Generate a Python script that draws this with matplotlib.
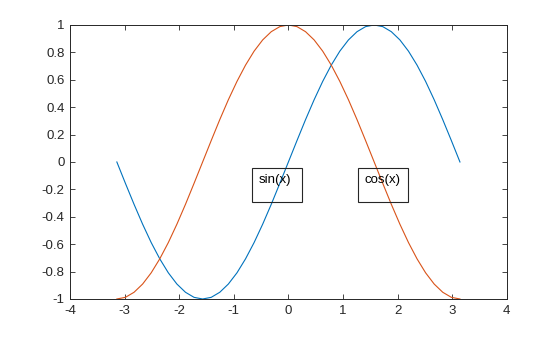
import matplotlib
matplotlib.use("Agg")
import matplotlib.pyplot as plt
from matplotlib.patches import Rectangle

x_pos = [0.0, 0.157, 0.314, 0.471, 0.628, 0.785, 0.942, 1.100, 1.257, 1.414, 1.571,
         1.728, 1.885, 2.042, 2.199, 2.356, 2.513, 2.670, 2.827, 2.985, 3.142]
x = [-v for v in x_pos[::-1]] + x_pos[1:]

sin_y = [0.0, -0.156, -0.309, -0.454, -0.588, -0.707, -0.809, -0.891, -0.951, -0.988, -1.0,
         -0.988, -0.951, -0.891, -0.809, -0.707, -0.588, -0.454, -0.309, -0.156, 0.0,
         0.156, 0.309, 0.454, 0.588, 0.707, 0.809, 0.891, 0.951, 0.988, 1.0,
         0.988, 0.951, 0.891, 0.809, 0.707, 0.588, 0.454, 0.309, 0.156, 0.0]
cos_y = [-1.0, -0.988, -0.951, -0.891, -0.809, -0.707, -0.588, -0.454, -0.309, -0.156, 0.0,
         0.156, 0.309, 0.454, 0.588, 0.707, 0.809, 0.891, 0.951, 0.988, 1.0,
         0.988, 0.951, 0.891, 0.809, 0.707, 0.588, 0.454, 0.309, 0.156, 0.0,
         -0.156, -0.309, -0.454, -0.588, -0.707, -0.809, -0.891, -0.951, -0.988, -1.0]

xticks = [-4, -3, -2, -1, 0, 1, 2, 3, 4]
xtick_labels = ["-4", "-3", "-2", "-1", "0", "1", "2", "3", "4"]
yticks = [-1, -0.8, -0.6, -0.4, -0.2, 0, 0.2, 0.4, 0.6, 0.8, 1]
ytick_labels = ["-1", "-0.8", "-0.6", "-0.4", "-0.2", "0", "0.2", "0.4", "0.6", "0.8", "1"]

labels = ["sin(x)", "cos(x)"]
label_x = [-0.54, 1.40]
label_y = -0.13
box_x = [-0.668, 1.273]
box_w = 0.915
box_y0 = -0.29
box_h = 0.248

plt.rcParams['font.family'] = ['Liberation Sans', 'DejaVu Sans']
fig = plt.figure(figsize=(5.6, 3.37), dpi=100)
ax = fig.add_axes([0.125, 0.1128, 0.78, 0.8131])
ax.plot(x, sin_y, color='#0072BD', lw=0.8)
ax.plot(x, cos_y, color='#D95319', lw=0.8)
ax.set_xlim(-4, 4)
ax.set_ylim(-1, 1)
ax.set_xticks(xticks)
ax.set_xticklabels(xtick_labels)
ax.set_yticks(yticks)
ax.set_yticklabels(ytick_labels)
ax.tick_params(direction='in', top=True, right=True, length=3.5, width=0.6,
               labelsize=9.5, colors='#262626', pad=4)
for s in ax.spines.values():
    s.set_color('#262626')
    s.set_linewidth(0.7)

for lab, lx, bx in zip(labels, label_x, box_x):
    ax.add_patch(Rectangle((bx, box_y0), box_w, box_h, fill=False,
                           edgecolor='#262626', lw=0.8, zorder=3))
    ax.text(lx, label_y, lab, ha='left', va='center', fontsize=9.5,
            color='#000000', zorder=4)

fig.savefig('out.png', dpi=100)
